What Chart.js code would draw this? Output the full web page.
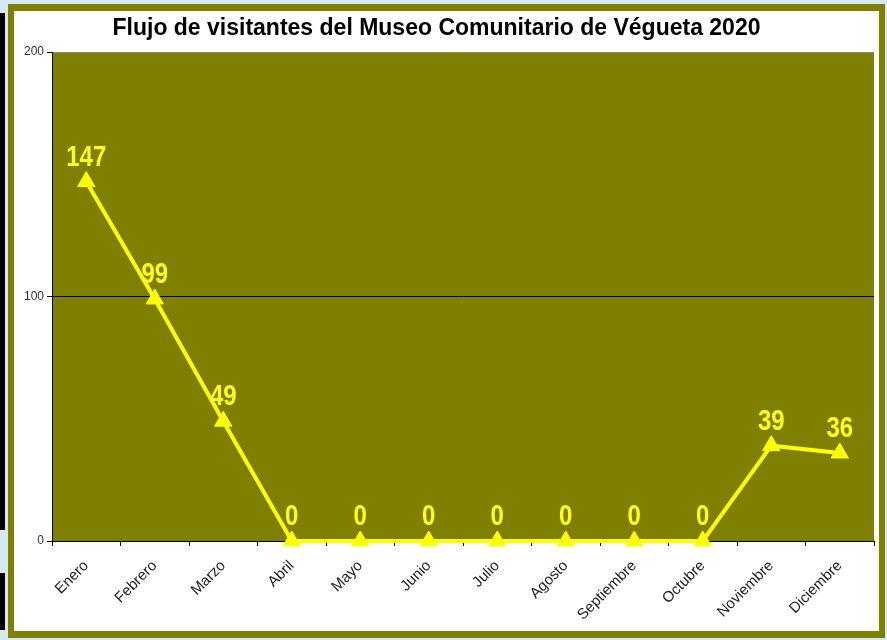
<!DOCTYPE html>
<html>
<head>
<meta charset="utf-8">
<script src="https://cdn.jsdelivr.net/npm/chart.js@4.4.1/dist/chart.umd.min.js"></script>
<style>
  html, body { margin: 0; padding: 0; }
  body { width: 887px; height: 640px; background: #d3eaf2; position: relative; overflow: hidden; font-family: "Liberation Sans", Arial, sans-serif; }
  #strip1 { position: absolute; left: 0; top: 13px; width: 5px; height: 517px; background: #000; }
  #strip2 { position: absolute; left: 0; top: 573px; width: 5px; height: 57px; background: #000; }
  #frame { position: absolute; left: 8px; top: 4px; width: 877px; height: 634px; background: #808000; }
  #panel { position: absolute; left: 14px; top: 11px; width: 865px; height: 620px; background: #fff; }
  #title { position: absolute; left: 0; top: 3px; width: 845px; text-align: center; font: bold 23px "Liberation Sans", Arial, sans-serif; color: #000; white-space: nowrap; }
  #c { position: absolute; left: 0; top: 0; }
</style>
</head>
<body>
<div id="strip1"></div>
<div id="strip2"></div>
<div id="frame"></div>
<div id="panel">
  <canvas id="c" width="871" height="620"></canvas>
  <div id="title">Flujo de visitantes del Museo Comunitario de Végueta 2020</div>
</div>
<script>
const categories = ["Enero","Febrero","Marzo","Abril","Mayo","Junio","Julio","Agosto","Septiembre","Octubre","Noviembre","Diciembre"];
const visitantes = [147, 99, 49, 0, 0, 0, 0, 0, 0, 0, 39, 36];
const yTicks = [0, 100, 200];

const plotBg = {
  id: 'plotBg',
  beforeDraw(chart) {
    const {ctx, chartArea: a} = chart;
    ctx.save();
    ctx.fillStyle = '#808000';
    ctx.fillRect(a.left, a.top, a.right - a.left, a.bottom - a.top);
    ctx.restore();
  }
};

const valueLabels = {
  id: 'valueLabels',
  afterDatasetsDraw(chart) {
    const {ctx} = chart;
    const meta = chart.getDatasetMeta(0);
    ctx.save();
    ctx.fillStyle = '#ffff1a';
    ctx.font = 'bold 30px "Liberation Sans", Arial, sans-serif';
    ctx.textAlign = 'center';
    ctx.textBaseline = 'alphabetic';
    meta.data.forEach((pt, i) => {
      ctx.save();
      ctx.translate(pt.x, pt.y - 16);
      ctx.scale(0.8, 1);
      ctx.fillText(String(visitantes[i]), 0, 0);
      ctx.restore();
    });
    ctx.restore();
  }
};

new Chart(document.getElementById('c'), {
  type: 'line',
  data: {
    labels: categories,
    datasets: [{
      data: visitantes,
      borderColor: '#ffff00',
      backgroundColor: '#ffff00',
      borderWidth: 4,
      pointStyle: 'triangle',
      pointRadius: 10,
      pointHoverRadius: 10,
      pointBackgroundColor: '#ffff00',
      pointBorderColor: '#ffff00',
      pointBorderWidth: 1,
      tension: 0,
      clip: false
    }]
  },
  options: {
    responsive: false,
    animation: false,
    events: [],
    layout: { padding: { left: 0, top: 41, right: 0, bottom: 0 } },
    plugins: { legend: { display: false }, title: { display: false }, tooltip: { enabled: false } },
    scales: {
      x: {
        type: 'category',
        offset: true,
        afterFit(s) { s.height = 90; s.paddingRight = 0; s.paddingLeft = 0; },
        grid: { offset: true, drawOnChartArea: false, tickLength: 5, tickColor: '#000', color: '#000' },
        border: { color: '#000', width: 1 },
        ticks: { color: '#222', font: { family: '"Liberation Sans", Arial, sans-serif', size: 15 }, minRotation: 45, maxRotation: 45, padding: 11 }
      },
      y: {
        min: 0, max: 200,
        afterFit(s) { s.width = 38; s.paddingTop = 0; s.paddingBottom = 0; },
        afterBuildTicks(s) { s.ticks = yTicks.map(v => ({ value: v })); },
        grid: {
          tickLength: 5, tickColor: '#000',
          color: (c) => c.tick && c.tick.value === 100 ? '#000' : (c.tick && c.tick.value === 200 ? '#8c8c70' : 'rgba(0,0,0,0)')
        },
        border: { color: '#000', width: 1 },
        ticks: { color: '#333', font: { family: '"Liberation Sans", Arial, sans-serif', size: 12 }, padding: 3 }
      }
    }
  },
  plugins: [plotBg, valueLabels]
});
</script>
</body>
</html>
